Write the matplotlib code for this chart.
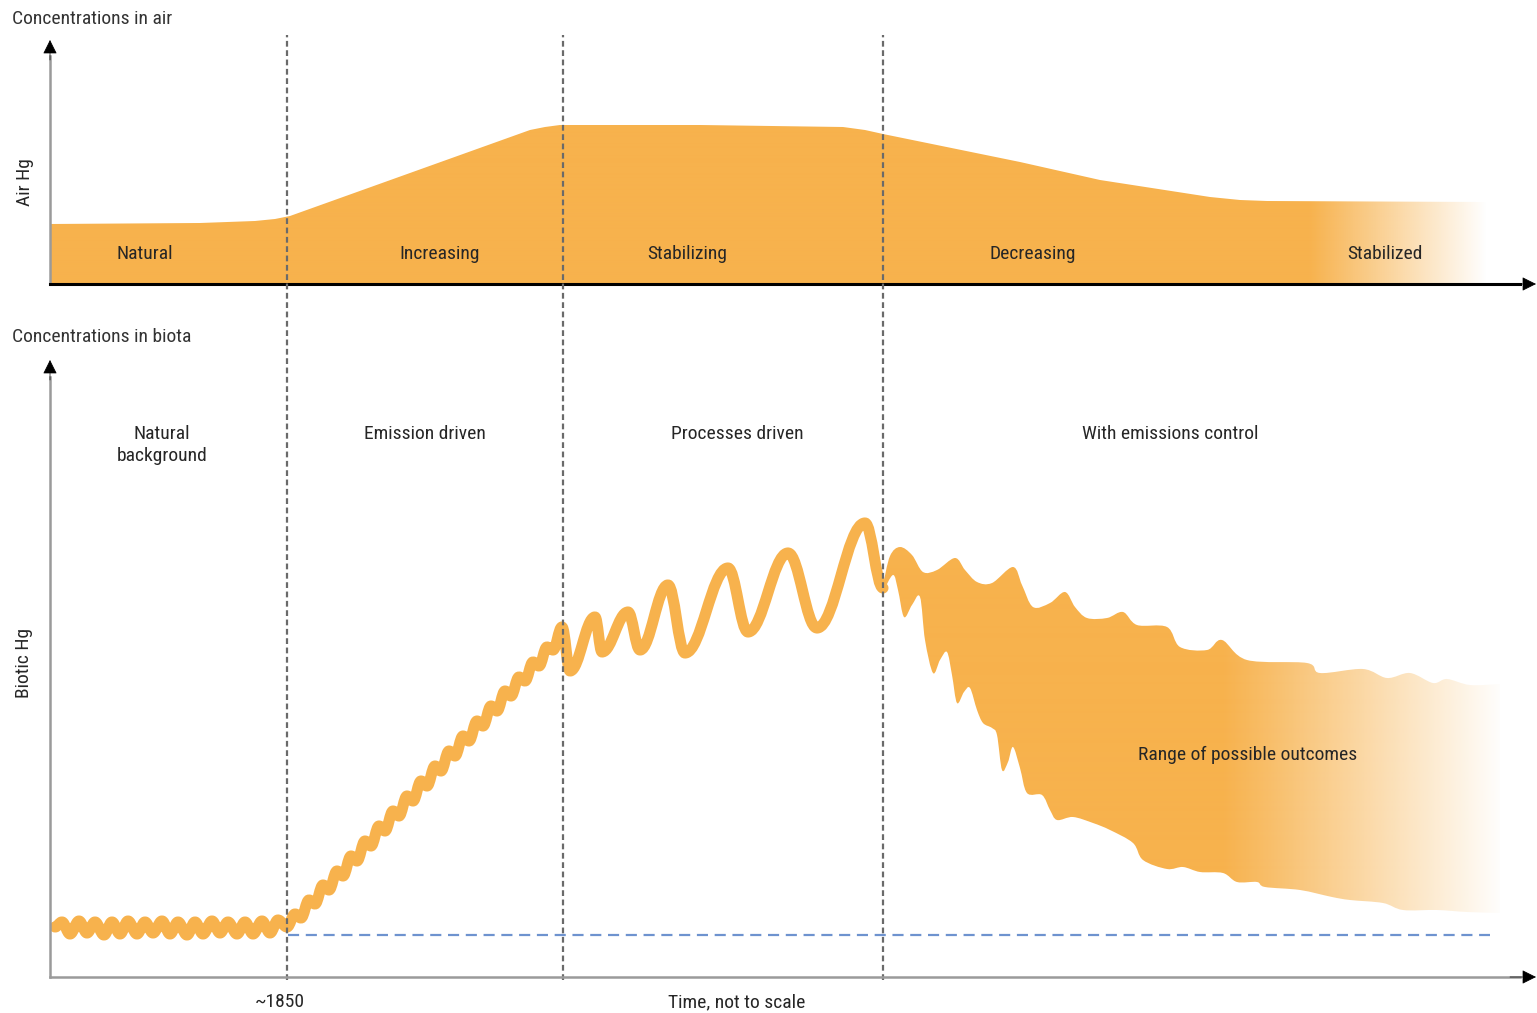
import numpy as np
import matplotlib
matplotlib.use("Agg")
import matplotlib.pyplot as plt
from matplotlib.path import Path
from matplotlib.patches import PathPatch
from matplotlib import font_manager

# time axis: arbitrary units ("not to scale"), 0 = start of record
# concentration: arbitrary units above each baseline

# --- air Hg (top panel)
air_t = [0, 150, 205, 225, 240, 480, 495, 510, 650, 793, 815, 833, 970, 1050, 1160, 1190, 1217, 1433, 1450]
air_level = [60, 61, 63, 65, 68, 154, 157, 159, 159, 157, 154, 150, 122, 104, 87, 84, 83, 82, 82]
air_labels = ["Natural", "Increasing", "Stabilizing", "Decreasing", "Stabilized"]
air_label_t = [95, 390, 637, 983, 1335]

# --- biotic Hg (bottom panel), peaks / troughs of the curve
natural_t = [5, 12, 20, 29, 37, 45, 54, 62, 70, 78, 87, 95, 103, 112, 120, 128, 137,
             145, 153, 162, 170, 178, 187, 195, 203, 212, 220, 228]
natural_level = [50, 55, 43, 56, 44, 55, 42, 55, 43, 56, 43, 55, 44, 56, 43, 55, 42,
                 55, 43, 56, 44, 55, 43, 55, 43, 56, 44, 57]

increasing_t = [237, 245, 251, 259, 265, 273, 279, 287, 293, 301, 307, 315, 321, 329,
                335, 343, 349, 357, 363, 371, 377, 385, 391, 399, 405, 413, 419, 427,
                433, 441, 447, 455, 461, 469, 475, 483, 489, 497, 503]
increasing_level = [50, 63, 59, 77, 73, 92, 87, 106, 101, 121, 116, 136, 131, 151,
                    146, 166, 161, 181, 176, 196, 191, 211, 206, 226, 221, 241, 236, 256,
                    251, 271, 266, 286, 281, 300, 296, 315, 311, 330, 327]

stabilizing_t = [512, 520, 545, 552, 578, 590, 618, 635, 678, 698, 738, 767, 815, 833]
stabilizing_level = [350, 306, 360, 325, 365, 327, 392, 324, 409, 345, 424, 349, 454, 389]

# range of possible outcomes after emission control
range_upper_t = [833, 840, 850, 862, 873, 887, 905, 915, 927, 942, 963, 972, 983, 1000,
                 1015, 1025, 1037, 1057, 1073, 1087, 1117, 1130, 1157, 1172, 1197, 1257,
                 1270, 1313, 1337, 1360, 1383, 1397, 1420, 1450]
range_upper_level = [392, 421, 430, 422, 405, 407, 419, 407, 395, 394, 410, 392, 370, 374,
                     385, 370, 359, 359, 365, 352, 350, 330, 327, 337, 317, 314,
                     304, 308, 299, 304, 294, 298, 292, 293]
range_lower_t = [833, 843, 848, 854, 862, 870, 875, 883, 890, 897, 902, 907, 914, 920,
                 927, 933, 942, 947, 952, 958, 963, 970, 977, 992, 1000, 1007, 1023,
                 1043, 1060, 1083, 1093, 1117, 1133, 1150, 1173, 1187, 1207, 1215, 1250,
                 1282, 1300, 1333, 1353, 1387, 1417, 1450]
range_lower_level = [385, 402, 387, 360, 372, 380, 337, 304, 317, 325, 302, 274, 285, 289,
                     267, 254, 249, 242, 207, 215, 230, 209, 184, 182, 167, 157, 160,
                     154, 147, 134, 117, 108, 110, 105, 104, 95, 95, 90, 87,
                     80, 77, 74, 67, 67, 65, 64]

background_t = [238, 1440]
background_level = [42, 42]

period_bounds = [237, 513, 833]
bio_labels = ["Natural\nbackground", "Emission driven", "Processes driven",
              "With emissions control"]
bio_label_t = [112, 375, 687, 1120]

ORANGE = "#F7B24D"
TEXT = "#262626"

W, H = 1537, 1013


def wave_path(t, v, k=0.38):
    # smooth curve through peaks/troughs, flat tangent at each point
    verts = [(t[0], v[0])]
    codes = [Path.MOVETO]
    for i in range(len(t) - 1):
        dt = t[i + 1] - t[i]
        verts += [(t[i] + k * dt, v[i]), (t[i + 1] - k * dt, v[i + 1]), (t[i + 1], v[i + 1])]
        codes += [Path.CURVE4] * 3
    return verts, codes


def smooth_verts(t, v):
    # catmull-rom through the points, as cubic beziers
    p = np.column_stack([t, v]).astype(float)
    n = len(p)
    verts = [p[0]]
    codes = [Path.MOVETO]
    for i in range(n - 1):
        p0 = p[max(i - 1, 0)]
        p1 = p[i]
        p2 = p[i + 1]
        p3 = p[min(i + 2, n - 1)]
        verts += [p1 + (p2 - p0) / 6, p2 - (p3 - p1) / 6, p2]
        codes += [Path.CURVE4] * 3
    return verts, codes


def gradient_fill(ax, path, fade_start, fade_end, ymax):
    patch = PathPatch(path, facecolor="none", edgecolor="none")
    ax.add_patch(patch)
    xs = np.linspace(0, 1487, 1487)
    rgba = np.zeros((1, len(xs), 4))
    rgba[..., :3] = matplotlib.colors.to_rgb(ORANGE)
    rgba[..., 3] = np.clip((fade_end - xs) / (fade_end - fade_start), 0, 1)
    im = ax.imshow(rgba, extent=[0, 1487, 0, ymax], aspect="auto", origin="lower",
                   interpolation="bilinear", zorder=1)
    im.set_clip_path(patch)


def arrow_head(ax, tip, tail, color="black"):
    ax.annotate("", xy=tip, xytext=tail,
                arrowprops=dict(arrowstyle="-|>", fc=color, ec=color, lw=0.5,
                                mutation_scale=22, shrinkA=0, shrinkB=0),
                annotation_clip=False, zorder=6)


def main():
    names = {f.name for f in font_manager.fontManager.ttflist}
    fw = "normal"
    if "Liberation Sans Narrow" in names:
        plt.rcParams["font.family"] = ["Liberation Sans Narrow", "DejaVu Sans"]
        fs = 14
    elif "Roboto Condensed" in names:
        plt.rcParams["font.family"] = ["Roboto Condensed", "DejaVu Sans"]
        fs = 14
    elif "Roboto" in names:
        plt.rcParams["font.family"] = ["Roboto", "DejaVu Sans"]
        fs = 12
        fw = "medium"
    else:
        plt.rcParams["font.family"] = ["Liberation Sans", "DejaVu Sans"]
        fs = 12
    plt.rcParams["font.weight"] = fw

    fig = plt.figure(figsize=(W / 100, H / 100), dpi=100)
    ax_air = fig.add_axes([50 / W, (H - 284) / H, 1487 / W, 249 / H])
    ax_bio = fig.add_axes([50 / W, (H - 977) / H, 1487 / W, 622 / H])
    ax_air.set_xlim(0, 1487)
    ax_air.set_ylim(0, 249)
    ax_bio.set_xlim(0, 1487)
    ax_bio.set_ylim(0, 622)
    for ax in (ax_air, ax_bio):
        ax.axis("off")

    # top panel: air concentrations
    verts = [(air_t[0], 0)] + list(zip(air_t, air_level)) + [(air_t[-1], 0), (air_t[0], 0)]
    air_path = Path(verts, [Path.MOVETO] + [Path.LINETO] * (len(verts) - 2) + [Path.CLOSEPOLY])
    gradient_fill(ax_air, air_path, 1260, 1437, 249)

    for lab, t in zip(air_labels, air_label_t):
        ax_air.text(t, 30, lab, ha="center", va="center", fontsize=fs, color=TEXT, zorder=5)

    ax_air.plot([0, 0], [0, 228], color="#9a9a9a", lw=1.8, clip_on=False, zorder=4)
    arrow_head(ax_air, (0, 244), (0, 224))
    ax_air.plot([0, 1470], [0, 0], color="black", lw=2.2, clip_on=False, zorder=4)
    arrow_head(ax_air, (1486, 0), (1460, 0))

    # bottom panel: biota concentrations
    u_verts, u_codes = smooth_verts(range_upper_t, range_upper_level)
    l_verts, l_codes = smooth_verts(range_lower_t[::-1], range_lower_level[::-1])
    l_codes[0] = Path.LINETO
    range_path = Path(u_verts + l_verts + [u_verts[0]], u_codes + l_codes + [Path.CLOSEPOLY])
    gradient_fill(ax_bio, range_path, 1175, 1455, 622)

    line_t = natural_t + increasing_t + stabilizing_t
    line_level = natural_level + increasing_level + stabilizing_level
    w_verts, w_codes = wave_path(line_t, line_level)
    ax_bio.add_patch(PathPatch(Path(w_verts, w_codes), facecolor="none", edgecolor=ORANGE,
                               lw=8, capstyle="round", joinstyle="round", zorder=2))

    ax_bio.plot(background_t, background_level, color="#6E93CF", lw=1.6,
                dashes=(5, 3), zorder=3)

    for t in period_bounds:
        ax_bio.plot([t, t], [-3, 942], color="#6a6a6a", lw=1.6, dashes=(2.6, 1.6),
                    clip_on=False, zorder=3)

    for lab, t in zip(bio_labels, bio_label_t):
        ax_bio.text(t, 532 if "\n" in lab else 543, lab, ha="center", va="center",
                    fontsize=fs, color=TEXT, linespacing=1.3, zorder=5)
    ax_bio.text(1198, 222, "Range of possible outcomes", ha="center", va="center",
                fontsize=fs, color=TEXT, zorder=5)

    ax_bio.plot([0, 0], [0, 600], color="#9a9a9a", lw=1.8, clip_on=False, zorder=4)
    arrow_head(ax_bio, (0, 617), (0, 597))
    ax_bio.plot([0, 1470], [0, 0], color="#9a9a9a", lw=1.8, clip_on=False, zorder=4)
    arrow_head(ax_bio, (1486, 0), (1460, 0))

    # titles and axis labels
    fig.text(12 / W, 1 - 19 / H, "Concentrations in air", ha="left", va="center",
             fontsize=fs, color="#333333")
    fig.text(12 / W, 1 - 337 / H, "Concentrations in biota", ha="left", va="center",
             fontsize=fs, color="#333333")
    fig.text(25 / W, 1 - 182 / H, "Air Hg", rotation=90, ha="center", va="center",
             fontsize=fs, color=TEXT)
    fig.text(24 / W, 1 - 663 / H, "Biotic Hg", rotation=90, ha="center", va="center",
             fontsize=fs, color=TEXT)
    fig.text(280 / W, 1 - 1002 / H, "~1850", ha="center", va="center",
             fontsize=fs, color=TEXT)
    fig.text(737 / W, 1 - 1002 / H, "Time, not to scale", ha="center", va="center",
             fontsize=fs, color=TEXT)

    fig.savefig("out.png", dpi=100, facecolor="white")


if __name__ == "__main__":
    main()
